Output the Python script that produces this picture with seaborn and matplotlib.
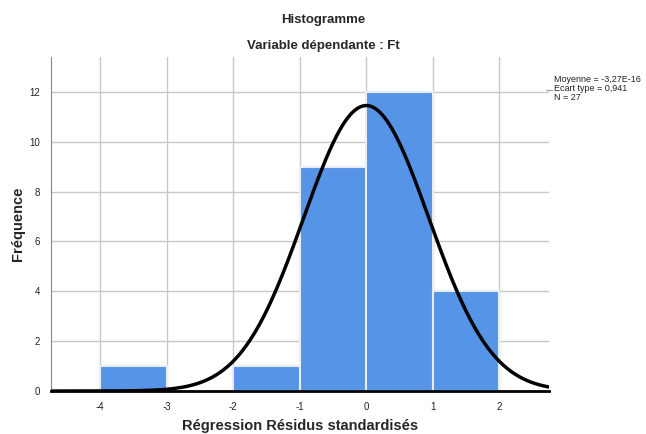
import numpy as np
import pandas as pd
import matplotlib
matplotlib.use("Agg")
import matplotlib.pyplot as plt
import seaborn as sns

bin_edges = [-4, -3, -2, -1, 0, 1, 2]
bin_mids = [-3.5, -2.5, -1.5, -0.5, 0.5, 1.5]
counts = [1, 0, 1, 9, 12, 4]
mean_val = -3.27e-16
sd_val = 0.941
n_val = 27
x_ticks = [-4, -3, -2, -1, 0, 1, 2]
y_ticks = [0, 2, 4, 6, 8, 10, 12]

sns.set_style("white")
plt.rcParams['font.family'] = ['Liberation Sans', 'DejaVu Sans']

fig = plt.figure(figsize=(6.46, 4.34), dpi=100)
ax = fig.add_axes([0.079, 0.099, 0.771, 0.770])

df = pd.DataFrame({"x": bin_mids, "w": counts})
ax.set_axisbelow(True)
for xv in x_ticks:
    ax.axvline(xv, color="#c8c8c8", lw=1, zorder=0)
for yv in y_ticks[1:]:
    ax.axhline(yv, color="#c8c8c8", lw=1, zorder=0)

sns.histplot(data=df, x="x", weights="w", bins=bin_edges, ax=ax,
             color="#5594e6", alpha=1, edgecolor="#e8eef8", linewidth=1.5, zorder=2)

xs = np.linspace(-4.74, 2.75, 400)
ys = n_val * 1.0 / (sd_val * np.sqrt(2 * np.pi)) * np.exp(-0.5 * ((xs - mean_val) / sd_val) ** 2)
sns.lineplot(x=xs, y=ys, ax=ax, color="black", lw=2.5, zorder=3)

ax.set_xlim(-4.74, 2.75)
ax.set_ylim(0, 13.4)
ax.set_xticks(x_ticks)
ax.set_xticklabels([str(v) for v in x_ticks])
ax.set_yticks(y_ticks)
ax.set_yticklabels([str(v) for v in y_ticks])
ax.tick_params(axis="both", labelsize=7, length=0, pad=8, colors="#222222")
for s in ["top", "right"]:
    ax.spines[s].set_visible(False)
ax.spines["left"].set_color("#888888")
ax.spines["bottom"].set_color("black")
ax.spines["bottom"].set_linewidth(2)
ax.set_xlabel("Régression Résidus standardisés", fontsize=10.5, fontweight="bold")
ax.set_ylabel("Fréquence", fontsize=10.5, fontweight="bold")
ax.xaxis.set_label_coords(0.5, -0.105)
ax.yaxis.set_label_coords(-0.066, 0.5)
ax.xaxis.label.set_va("center")
ax.yaxis.label.set_va("center")

fig.text(0.5, 0.955, "Histogramme", ha="center", va="center", fontsize=9.5, fontweight="bold")
fig.text(0.5, 0.893, "Variable dépendante : Ft", ha="center", va="center", fontsize=9.5, fontweight="bold")

fig.text(0.858, 0.795, "Moyenne = -3,27E-16\nEcart type = 0,941\nN = 27",
         ha="left", va="center", fontsize=6.5, linespacing=1.0, color="#222222")
fig.add_artist(plt.Line2D([0.845, 0.855], [0.793, 0.793], color="#999999", lw=0.8))

fig.savefig("out.png", dpi=100)
